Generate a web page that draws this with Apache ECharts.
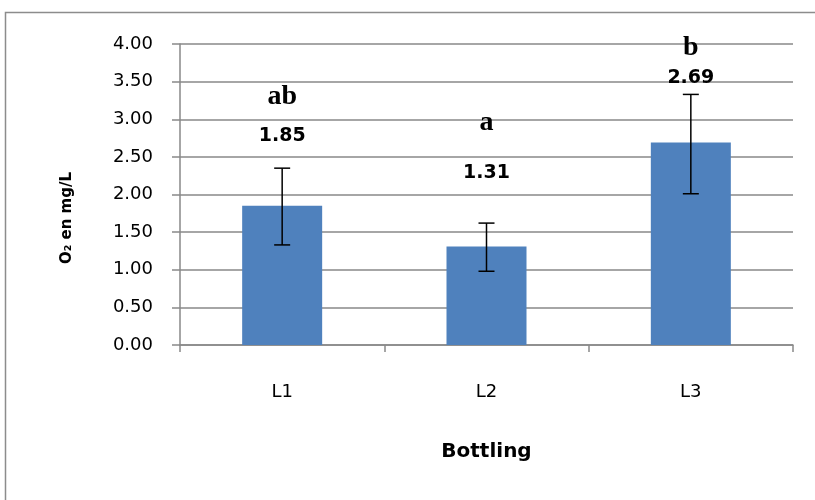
<!DOCTYPE html>
<html>
<head>
<meta charset="utf-8">
<script src="https://cdn.jsdelivr.net/npm/echarts@6/dist/echarts.min.js"></script>
<style>html,body{margin:0;padding:0;background:#fff}#c{width:815px;height:500px}</style>
</head>
<body>
<div id="c"></div>
<script>
// ---- data ----
const categories = ['L1', 'L2', 'L3'];
const means = [1.85, 1.31, 2.69];
const errLow = [1.33, 0.98, 2.01];
const errHigh = [2.35, 1.62, 3.33];
const letters = ['ab', 'a', 'b'];
const yTicks = [0, 0.5, 1, 1.5, 2, 2.5, 3, 3.5, 4];

// ---- layout (annotation anchors, in axis units) ----
const letterAnchor = [3.30, 2.95, 3.95];
const valueAnchor = [2.78, 2.28, 3.55];

const chart = echarts.init(document.getElementById('c'), null, {renderer: 'canvas'});
const grey = '#898989';

chart.setOption({
  animation: false,
  backgroundColor: '#fff',
  grid: {left: 180, right: 22, top: 44, bottom: 155, containLabel: false},
  xAxis: {
    type: 'category',
    data: categories,
    axisLine: {lineStyle: {color: grey, width: 1.5}},
    axisTick: {show: true, length: 7, lineStyle: {color: grey, width: 1.5}},
    axisLabel: {margin: 38, fontFamily: 'DejaVu Sans', fontSize: 18, color: '#000'},
    name: 'Bottling',
    nameLocation: 'middle',
    nameGap: 97,
    nameTextStyle: {fontFamily: 'DejaVu Sans', fontWeight: 'bold', fontSize: 20, color: '#000'}
  },
  yAxis: {
    type: 'value',
    min: yTicks[0],
    max: yTicks[yTicks.length - 1],
    interval: 0.5,
    axisLine: {show: true, lineStyle: {color: grey, width: 1.5}},
    axisTick: {show: true, length: 8, lineStyle: {color: grey, width: 1.5}},
    axisLabel: {margin: 27, fontFamily: 'DejaVu Sans', fontSize: 18, color: '#000',
      formatter: v => v.toFixed(2)},
    splitLine: {show: true, lineStyle: {color: grey, width: 1.5}}
  },
  graphic: [
    {type: 'rect', z: -10, silent: true,
     shape: {x: 5.5, y: 12.5, width: 900, height: 600},
     style: {fill: 'none', stroke: '#8c8c8c', lineWidth: 1.5}},
    {type: 'text', silent: true, x: 67, y: 218, rotation: Math.PI / 2,
     style: {text: 'O\u2082 en mg/L', font: 'bold 15px "DejaVu Sans"', fill: '#000',
       textAlign: 'center', textVerticalAlign: 'middle'}}
  ],
  series: [
    {
      type: 'bar',
      data: means,
      barWidth: 80,
      itemStyle: {color: '#4F81BD'},
      z: 2
    },
    {
      type: 'custom',
      data: categories.map((c, i) => [i, errLow[i], errHigh[i]]),
      z: 5,
      clip: false,
      renderItem: function (params, api) {
        const i = api.value(0);
        const lo = api.coord([i, api.value(1)]);
        const hi = api.coord([i, api.value(2)]);
        const hw = 8;
        const st = {stroke: '#000', lineWidth: 1.5};
        return {type: 'group', children: [
          {type: 'line', shape: {x1: lo[0], y1: lo[1], x2: hi[0], y2: hi[1]}, style: st},
          {type: 'line', shape: {x1: lo[0] - hw, y1: lo[1], x2: lo[0] + hw, y2: lo[1]}, style: st},
          {type: 'line', shape: {x1: hi[0] - hw, y1: hi[1], x2: hi[0] + hw, y2: hi[1]}, style: st}
        ]};
      }
    },
    {
      type: 'custom',
      data: categories.map((c, i) => [i, letterAnchor[i], valueAnchor[i], means[i]]),
      z: 6,
      clip: false,
      renderItem: function (params, api) {
        const idx = params.dataIndex;
        const i = api.value(0);
        const pL = api.coord([i, api.value(1)]);
        const pV = api.coord([i, api.value(2)]);
        return {type: 'group', children: [
          {type: 'text', x: pL[0], y: pL[1], style: {text: letters[idx],
            font: 'bold 28px "Liberation Serif"', fill: '#000', textAlign: 'center', textVerticalAlign: 'middle'}},
          {type: 'text', x: pV[0], y: pV[1], style: {text: api.value(3).toFixed(2),
            font: 'bold 19px "DejaVu Sans"', fill: '#000', textAlign: 'center', textVerticalAlign: 'middle'}}
        ]};
      }
    }
  ]
});
</script>
</body>
</html>
